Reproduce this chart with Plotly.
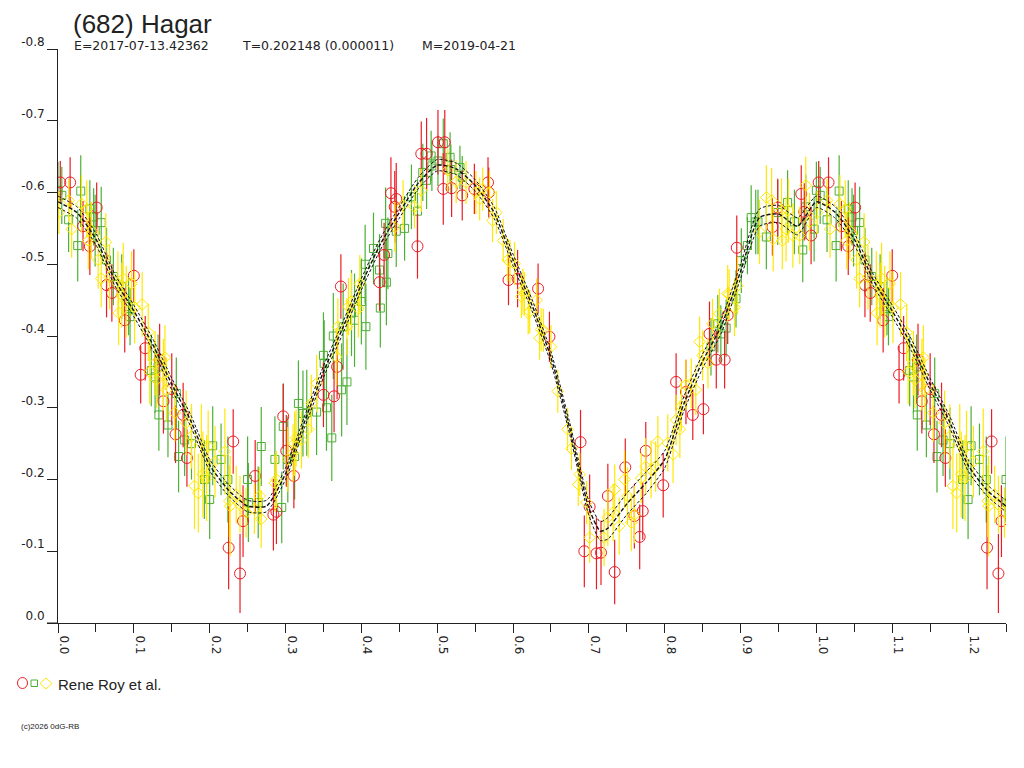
import plotly.graph_objects as go

# ------------------------------------------------------------
# DATA  (phase, reduced magnitude, error)
# ------------------------------------------------------------
TITLE = "(682) Hagar"
SUB_E = "E=2017-07-13.42362"
SUB_T = "T=0.202148 (0.000011)"
SUB_M = "M=2019-04-21"
LEGEND_TEXT = "Rene Roy et al."
COPYRIGHT = "(c)2026 0dG-RB"

red_phase = [0.003, 0.016, 0.033, 0.042, 0.051, 0.064, 0.071, 0.088, 0.100, 0.109,
             0.115, 0.134, 0.139, 0.150, 0.155, 0.165, 0.170, 0.225, 0.231, 0.240,
             0.244, 0.260, 0.284, 0.288, 0.297, 0.301, 0.311, 0.350, 0.364, 0.368,
             0.373, 0.424, 0.430, 0.439, 0.444, 0.446, 0.474, 0.479, 0.486, 0.501,
             0.508, 0.510, 0.519, 0.533, 0.549, 0.567, 0.568, 0.594, 0.606, 0.633,
             0.648, 0.689, 0.694, 0.701, 0.710, 0.716, 0.725, 0.734, 0.748, 0.760,
             0.767, 0.771, 0.775, 0.798, 0.815, 0.828, 0.837, 0.851, 0.859, 0.868,
             0.879, 0.883, 0.895, 0.942, 0.949, 0.980, 0.984, 0.993]
red_mag = [-0.614, -0.614, -0.553, -0.525, -0.579, -0.471, -0.460, -0.422, -0.484, -0.346,
           -0.383, -0.367, -0.309, -0.326, -0.263, -0.290, -0.230, -0.105, -0.253, -0.069,
           -0.142, -0.205, -0.151, -0.155, -0.288, -0.240, -0.205, -0.318, -0.316, -0.357,
           -0.469, -0.475, -0.513, -0.599, -0.580, -0.591, -0.525, -0.654, -0.654, -0.670,
           -0.605, -0.670, -0.606, -0.596, -0.605, -0.614, -0.600, -0.478, -0.480, -0.466,
           -0.399, -0.252, -0.100, -0.162, -0.097, -0.098, -0.177, -0.071, -0.217, -0.149,
           -0.120, -0.156, -0.240, -0.192, -0.336, -0.322, -0.290, -0.298, -0.403, -0.367,
           -0.367, -0.429, -0.523, -0.552, -0.579, -0.598, -0.573, -0.540]
red_err = [0.030, 0.035, 0.035, 0.040, 0.035, 0.045, 0.040, 0.045, 0.037, 0.040,
           0.045, 0.050, 0.045, 0.050, 0.040, 0.045, 0.040, 0.058, 0.045, 0.055,
           0.050, 0.050, 0.050, 0.045, 0.045, 0.050, 0.045, 0.045, 0.050, 0.045,
           0.045, 0.040, 0.045, 0.050, 0.050, 0.050, 0.045, 0.045, 0.050, 0.045,
           0.050, 0.045, 0.040, 0.035, 0.035, 0.035, 0.035, 0.035, 0.040, 0.035,
           0.035, 0.045, 0.050, 0.045, 0.050, 0.045, 0.045, 0.045, 0.040, 0.045,
           0.045, 0.040, 0.040, 0.045, 0.040, 0.045, 0.035, 0.035, 0.045, 0.040,
           0.040, 0.040, 0.045, 0.040, 0.040, 0.040, 0.040, 0.040]

green_phase = [0.000, 0.005, 0.014, 0.026, 0.030, 0.042, 0.047, 0.049, 0.057, 0.064,
               0.073, 0.084, 0.093, 0.095, 0.123, 0.128, 0.132, 0.133, 0.145, 0.156,
               0.159, 0.167, 0.176, 0.193, 0.200, 0.204, 0.215, 0.224, 0.250, 0.251,
               0.264, 0.268, 0.286, 0.295, 0.297, 0.303, 0.312, 0.317, 0.323, 0.328,
               0.341, 0.350, 0.351, 0.354, 0.361, 0.363, 0.374, 0.376, 0.381, 0.387,
               0.391, 0.400, 0.405, 0.406, 0.416, 0.424, 0.425, 0.432, 0.433, 0.435,
               0.446, 0.457, 0.466, 0.474, 0.481, 0.486, 0.492, 0.493, 0.501, 0.508,
               0.517, 0.518, 0.530, 0.533, 0.861, 0.870, 0.874, 0.881, 0.894, 0.901,
               0.909, 0.914, 0.920, 0.923, 0.934, 0.949, 0.962, 0.971, 0.982, 0.986,
               0.997]
green_mag = [-0.603, -0.596, -0.562, -0.526, -0.602, -0.577, -0.566, -0.547, -0.558, -0.506,
             -0.483, -0.469, -0.441, -0.427, -0.352, -0.343, -0.357, -0.290, -0.276, -0.320,
             -0.232, -0.255, -0.250, -0.200, -0.172, -0.247, -0.228, -0.200, -0.200, -0.168,
             -0.168, -0.246, -0.228, -0.161, -0.274, -0.228, -0.232, -0.306, -0.292, -0.293,
             -0.294, -0.373, -0.362, -0.300, -0.258, -0.400, -0.325, -0.413, -0.336, -0.432,
             -0.422, -0.448, -0.500, -0.413, -0.522, -0.492, -0.439, -0.557, -0.475, -0.515,
             -0.546, -0.550, -0.594, -0.574, -0.628, -0.617, -0.651, -0.637, -0.644, -0.668,
             -0.649, -0.632, -0.635, -0.621, -0.385, -0.417, -0.403, -0.411, -0.452, -0.505,
             -0.526, -0.565, -0.559, -0.559, -0.538, -0.572, -0.586, -0.559, -0.520, -0.580,
             -0.549]
green_err = [0.040, 0.040, 0.045, 0.050, 0.050, 0.040, 0.040, 0.050, 0.050, 0.045,
             0.040, 0.045, 0.040, 0.040, 0.050, 0.050, 0.045, 0.050, 0.045, 0.050,
             0.050, 0.050, 0.050, 0.055, 0.055, 0.055, 0.050, 0.060, 0.060, 0.055,
             0.050, 0.055, 0.060, 0.050, 0.060, 0.060, 0.060, 0.060, 0.060, 0.060,
             0.060, 0.060, 0.060, 0.060, 0.060, 0.060, 0.065, 0.060, 0.060, 0.060,
             0.065, 0.060, 0.055, 0.060, 0.050, 0.050, 0.055, 0.050, 0.060, 0.050,
             0.050, 0.045, 0.045, 0.045, 0.040, 0.040, 0.035, 0.035, 0.035, 0.035,
             0.035, 0.035, 0.030, 0.030, 0.040, 0.040, 0.040, 0.040, 0.040, 0.045,
             0.040, 0.045, 0.045, 0.045, 0.045, 0.045, 0.045, 0.045, 0.045, 0.045,
             0.045]

yellow_phase = [0.001, 0.014, 0.018, 0.031, 0.038, 0.040, 0.044, 0.053, 0.057, 0.063,
                0.068, 0.079, 0.080, 0.084, 0.086, 0.090, 0.097, 0.101, 0.111, 0.119,
                0.121, 0.128, 0.130, 0.139, 0.141, 0.143, 0.154, 0.169, 0.176, 0.180,
                0.185, 0.189, 0.191, 0.196, 0.198, 0.207, 0.220, 0.226, 0.227, 0.235,
                0.240, 0.248, 0.259, 0.266, 0.268, 0.286, 0.288, 0.303, 0.310, 0.312,
                0.314, 0.321, 0.330, 0.334, 0.341, 0.367, 0.369, 0.381, 0.383, 0.387,
                0.396, 0.398, 0.444, 0.455, 0.470, 0.479, 0.514, 0.525, 0.538, 0.551,
                0.556, 0.560, 0.569, 0.573, 0.578, 0.587, 0.593, 0.596, 0.602, 0.611,
                0.613, 0.615, 0.620, 0.622, 0.631, 0.635, 0.637, 0.640, 0.650, 0.659,
                0.672, 0.677, 0.686, 0.688, 0.697, 0.701, 0.720, 0.725, 0.732, 0.734,
                0.740, 0.747, 0.751, 0.756, 0.760, 0.769, 0.775, 0.782, 0.788, 0.791,
                0.804, 0.811, 0.815, 0.820, 0.822, 0.828, 0.835, 0.841, 0.846, 0.850,
                0.857, 0.863, 0.872, 0.883, 0.885, 0.892, 0.896, 0.925, 0.934, 0.941,
                0.943, 0.954, 0.955, 0.960, 0.963, 0.969, 0.978, 0.986, 0.991]
yellow_mag = [-0.572, -0.589, -0.549, -0.584, -0.577, -0.533, -0.547, -0.506, -0.480, -0.531,
              -0.482, -0.473, -0.432, -0.457, -0.480, -0.448, -0.473, -0.440, -0.444, -0.405,
              -0.350, -0.362, -0.339, -0.346, -0.370, -0.325, -0.293, -0.279, -0.260, -0.191,
              -0.181, -0.250, -0.207, -0.202, -0.246, -0.225, -0.239, -0.170, -0.163, -0.179,
              -0.165, -0.154, -0.159, -0.177, -0.145, -0.195, -0.200, -0.228, -0.237, -0.250,
              -0.258, -0.255, -0.270, -0.306, -0.334, -0.371, -0.413, -0.413, -0.441, -0.448,
              -0.438, -0.473, -0.552, -0.582, -0.580, -0.603, -0.631, -0.615, -0.614, -0.600,
              -0.591, -0.605, -0.600, -0.561, -0.572, -0.533, -0.506, -0.503, -0.501, -0.455,
              -0.464, -0.459, -0.432, -0.434, -0.450, -0.397, -0.409, -0.408, -0.385, -0.323,
              -0.270, -0.243, -0.193, -0.207, -0.168, -0.119, -0.119, -0.147, -0.154, -0.186,
              -0.135, -0.200, -0.177, -0.140, -0.151, -0.202, -0.218, -0.214, -0.218, -0.253,
              -0.251, -0.235, -0.283, -0.270, -0.302, -0.332, -0.334, -0.325, -0.392, -0.373,
              -0.362, -0.417, -0.431, -0.459, -0.458, -0.440, -0.470, -0.545, -0.593, -0.589,
              -0.535, -0.575, -0.533, -0.549, -0.575, -0.540, -0.540, -0.610, -0.559]
yellow_err = [0.030, 0.030, 0.040, 0.040, 0.040, 0.040, 0.040, 0.040, 0.040, 0.040,
              0.045, 0.045, 0.045, 0.045, 0.050, 0.050, 0.045, 0.050, 0.045, 0.040,
              0.045, 0.045, 0.040, 0.050, 0.045, 0.045, 0.040, 0.045, 0.045, 0.060,
              0.055, 0.055, 0.060, 0.060, 0.050, 0.050, 0.060, 0.050, 0.070, 0.040,
              0.040, 0.035, 0.035, 0.040, 0.040, 0.040, 0.040, 0.045, 0.040, 0.045,
              0.040, 0.040, 0.040, 0.040, 0.040, 0.040, 0.040, 0.040, 0.040, 0.040,
              0.040, 0.040, 0.035, 0.035, 0.030, 0.030, 0.030, 0.030, 0.030, 0.030,
              0.030, 0.030, 0.030, 0.030, 0.030, 0.030, 0.030, 0.030, 0.030, 0.030,
              0.030, 0.030, 0.030, 0.030, 0.030, 0.030, 0.030, 0.030, 0.030, 0.030,
              0.030, 0.030, 0.030, 0.030, 0.030, 0.035, 0.040, 0.040, 0.040, 0.035,
              0.040, 0.040, 0.040, 0.040, 0.040, 0.035, 0.040, 0.040, 0.035, 0.035,
              0.040, 0.040, 0.035, 0.040, 0.035, 0.035, 0.035, 0.035, 0.035, 0.035,
              0.035, 0.035, 0.035, 0.040, 0.035, 0.040, 0.040, 0.045, 0.045, 0.045,
              0.045, 0.045, 0.040, 0.045, 0.045, 0.045, 0.040, 0.040, 0.040]

# fourier fit, read at knots over one rotation, plus its uncertainty band
fit_phase = [0.000, 0.025, 0.050, 0.075, 0.100, 0.125, 0.150, 0.175, 0.200, 0.225,
             0.250, 0.275, 0.300, 0.325, 0.350, 0.375, 0.400, 0.425, 0.450, 0.475,
             0.500, 0.525, 0.550, 0.575, 0.600, 0.625, 0.650, 0.675, 0.700, 0.715,
             0.725, 0.750, 0.775, 0.800, 0.825, 0.850, 0.875, 0.900, 0.925, 0.950,
             0.975, 1.000]
fit_mag = [-0.587, -0.572, -0.535, -0.478, -0.435, -0.388, -0.333, -0.282, -0.220, -0.185,
           -0.163, -0.163, -0.208, -0.280, -0.350, -0.410, -0.472, -0.528, -0.572, -0.613,
           -0.638, -0.633, -0.610, -0.572, -0.506, -0.443, -0.370, -0.270, -0.160, -0.128,
           -0.132, -0.166, -0.195, -0.228, -0.305, -0.365, -0.415, -0.490, -0.565, -0.570,
           -0.553, -0.587]
fit_err = [0.008, 0.008, 0.008, 0.008, 0.008, 0.008, 0.008, 0.008, 0.008, 0.008,
           0.008, 0.008, 0.008, 0.008, 0.008, 0.008, 0.008, 0.008, 0.008, 0.008,
           0.008, 0.008, 0.008, 0.008, 0.008, 0.008, 0.008, 0.008, 0.010, 0.013,
           0.015, 0.015, 0.015, 0.012, 0.010, 0.010, 0.010, 0.010, 0.012, 0.012,
           0.012, 0.008]

x_tick_vals = [0.0, 0.1, 0.2, 0.3, 0.4, 0.5, 0.6, 0.7, 0.8, 0.9, 1.0, 1.1, 1.2]
x_tick_text = ["0.0", "0.1", "0.2", "0.3", "0.4", "0.5", "0.6", "0.7", "0.8", "0.9", "1.0", "1.1", "1.2"]
y_tick_vals = [0.0, -0.1, -0.2, -0.3, -0.4, -0.5, -0.6, -0.7, -0.8]
y_tick_text = ["0.0", "-0.1", "-0.2", "-0.3", "-0.4", "-0.5", "-0.6", "-0.7", "-0.8"]

PHASE_MAX = 1.25


def wrap(phase, *cols):
    # repeat the start of the cycle after phase 1 (plot runs to 1.25)
    idx = [i for i, p in enumerate(phase) if p <= PHASE_MAX - 1.0 + 0.01]
    out = [list(phase) + [phase[i] + 1.0 for i in idx]]
    for c in cols:
        out.append(list(c) + [c[i] for i in idx])
    return out


RED = "#ec1c24"
GREEN = "#4cb035"
YELLOW = "#ffe800"

fig = go.Figure()

series = [
    (green_phase, green_mag, green_err, GREEN, "square-open", 8),
    (red_phase, red_mag, red_err, RED, "circle-open", 11),
    (yellow_phase, yellow_mag, yellow_err, YELLOW, "diamond-open", 9),
]
for ph, mg, er, col, sym, sz in series:
    x, y, e = wrap(ph, mg, er)
    fig.add_trace(go.Scatter(
        x=x, y=y, mode="markers",
        marker=dict(symbol=sym, size=sz, color=col, line=dict(width=1, color=col)),
        error_y=dict(type="data", array=e, visible=True, color=col, thickness=1.2, width=0),
        showlegend=False, hoverinfo="skip",
    ))

# fit curve (center + band) over 1.25 cycles
fx, fy, fe = wrap(fit_phase[:-1], fit_mag[:-1], fit_err[:-1])
order = sorted(range(len(fx)), key=lambda i: fx[i])
fx = [fx[i] for i in order]
fy = [fy[i] for i in order]
fe = [fe[i] for i in order]
for sign in (-1, 1):
    fig.add_trace(go.Scatter(
        x=fx, y=[m + sign * s for m, s in zip(fy, fe)], mode="lines",
        line=dict(color="#111111", width=1, dash="3px,2px", shape="spline", smoothing=0.6),
        showlegend=False, hoverinfo="skip",
    ))
fig.add_trace(go.Scatter(
    x=fx, y=fy, mode="lines",
    line=dict(color="#111111", width=1.4, dash="4px,2px", shape="spline", smoothing=0.6),
    showlegend=False, hoverinfo="skip",
))

# page has an 8px body margin; the plot box sits at page x 58..1006, y 49..623
W, H = 1008, 752
L, T = 50, 41
PW, PH = 948, 574
R, B = W - L - PW, H - T - PH


def px(page_x):
    return (page_x - 58) / PW


def py(page_y):
    return (623 - page_y) / PH


font = "Liberation Sans, Arial, sans-serif"
tick_font = "DejaVu Sans, sans-serif"
axis_col = "#222222"

fig.update_layout(
    width=W, height=H,
    margin=dict(l=L, r=R, t=T, b=B, autoexpand=False),
    paper_bgcolor="white", plot_bgcolor="white",
    font=dict(family=font, size=13, color=axis_col),
    xaxis=dict(
        range=[0, PHASE_MAX], tickvals=x_tick_vals, ticktext=x_tick_text, tickangle=90,
        ticks="outside", ticklen=9, tickwidth=1, tickcolor=axis_col,
        minor=dict(dtick=0.05, ticks="outside", ticklen=8, tickcolor=axis_col, showgrid=False),
        showline=True, linecolor=axis_col, linewidth=1, showgrid=False, zeroline=False,
        tickfont=dict(family=tick_font, size=12), ticklabelshift=6,
    ),
    yaxis=dict(
        range=[0.0, -0.8], tickvals=y_tick_vals, ticktext=y_tick_text,
        ticks="outside", ticklen=10, tickwidth=1, tickcolor=axis_col,
        showline=True, linecolor=axis_col, linewidth=1, showgrid=False, zeroline=False,
        tickfont=dict(family=tick_font, size=12), ticklabelshift=7,
    ),
)

# x axis line runs a little past the y axis on the left
fig.add_shape(type="line", xref="paper", yref="paper", x0=px(47), x1=0, y0=0, y1=0,
              line=dict(color=axis_col, width=1))

ann = dict(xref="paper", yref="paper", showarrow=False, xanchor="left", yanchor="middle")
fig.add_annotation(text=TITLE, x=px(71), y=py(23.5), font=dict(size=26, color="#222222"), **ann)
sub_font = dict(family=tick_font, size=12.5, color="#222222")
fig.add_annotation(text=SUB_E, x=px(72), y=py(46), font=sub_font, **ann)
fig.add_annotation(text=SUB_T, x=px(240), y=py(46), font=sub_font, **ann)
fig.add_annotation(text=SUB_M, x=px(420), y=py(46), font=sub_font, **ann)
fig.add_annotation(text=LEGEND_TEXT, x=px(56), y=py(684), font=dict(size=15, color="#222222"), **ann)
fig.add_annotation(text=COPYRIGHT, x=px(19), y=py(726), font=dict(size=8, color="#222222"), **ann)

# legend symbols
fig.add_shape(type="circle", xref="paper", yref="paper", x0=px(17.5), x1=px(27.5), y0=py(677.5), y1=py(688.5),
              line=dict(color=RED, width=1))
fig.add_shape(type="rect", xref="paper", yref="paper", x0=px(31), x1=px(37.5), y0=py(680), y1=py(686.5),
              line=dict(color=GREEN, width=1))
fig.add_shape(type="path", xref="paper", yref="paper",
              path=f"M {px(40)} {py(683.5)} L {px(46)} {py(678)} L {px(52)} {py(683.5)} L {px(46)} {py(689)} Z",
              line=dict(color=YELLOW, width=1))

fig.write_html("out.html")
